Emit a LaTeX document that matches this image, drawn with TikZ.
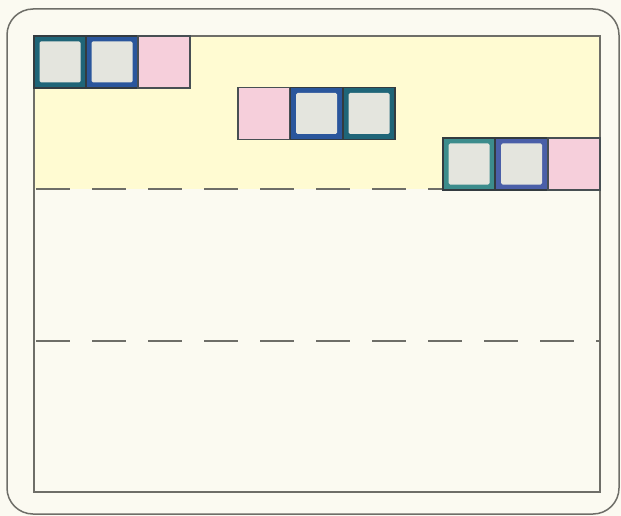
\documentclass[tikz,border=0pt]{standalone}
\usetikzlibrary{positioning}
\definecolor{paper}{HTML}{FBFAF1}
\definecolor{yel}{HTML}{FFFBD2}
\definecolor{framegray}{HTML}{6E6E68}
\definecolor{tealc}{HTML}{1F6578}
\definecolor{tealg}{HTML}{3C8C8C}
\definecolor{bluec}{HTML}{2A569C}
\definecolor{bluep}{HTML}{4A5FA8}
\definecolor{pinkc}{HTML}{F6CFDB}
\definecolor{innerc}{HTML}{E4E5DE}
\definecolor{edgec}{HTML}{333B40}
\tikzset{
  cell/.style={minimum size=52pt, inner sep=0pt, draw=edgec, line width=1.2pt},
  framed/.style={cell, fill=#1,
    path picture={\fill[innerc, rounded corners=1.5pt]
      ([shift={(5.5pt,-5.5pt)}]path picture bounding box.north west) rectangle
      ([shift={(-5.5pt,5.5pt)}]path picture bounding box.south east);}},
  pinkcell/.style={cell, fill=pinkc, draw=edgec!90},
  divider/.style={framegray, line width=1.1pt, dash pattern=on 34pt off 22pt, dash phase=-2pt},
}
\begin{document}
\begin{tikzpicture}[x=1pt,y=-1pt]
\useasboundingbox (0,0) rectangle (621,516);
\fill[paper] (0,0) rectangle (621,516);
% outer rounded frame
\draw[framegray, line width=1.5pt, rounded corners=26pt] (7,9) rectangle (619,514);
% yellow band
\fill[yel] (34,36) rectangle (600,189);
% inner frame
\draw[framegray, line width=1.2pt] (34,36) rectangle (600,492);
% group 1
\node[framed=tealc] (a1) at (60,62) {};
\node[framed=bluec] (a2) at (112,62) {};
\node[pinkcell] (a3) at (164,62) {};
% group 2
\node[pinkcell] (b1) at (264,113.5) {};
\node[framed=bluec] (b2) at (316.5,113.5) {};
\node[framed=tealc] (b3) at (369,113.5) {};
% group 3
\node[framed=tealg] (c1) at (469,164) {};
\node[framed=bluep] (c2) at (521.5,164) {};
\node[pinkcell] (c3) at (574,164) {};
% dividers
\coordinate (d1s) at (34,189);
\coordinate (d1e) at (c1.south west |- d1s);
\draw[divider] (d1s) -- (d1e);
\coordinate (d2s) at (34,341);
\coordinate (d2e) at (600,341);
\draw[divider] (d2s) -- (d2e);
\end{tikzpicture}
\end{document}
